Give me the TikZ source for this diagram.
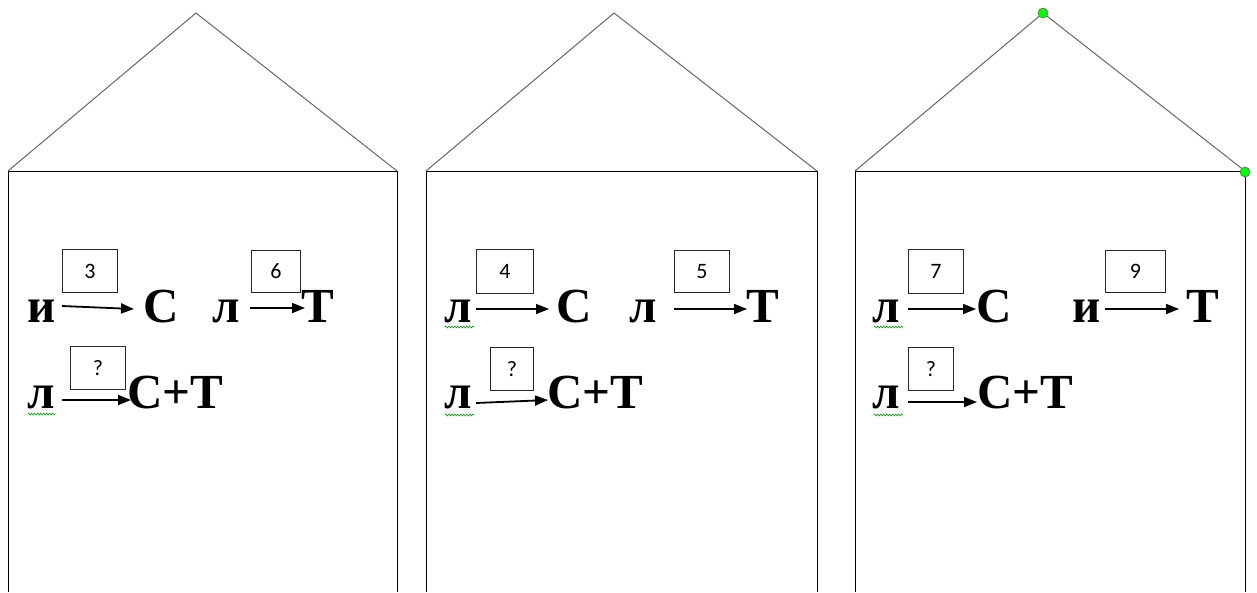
\documentclass[tikz,border=0pt]{standalone}
\usepackage{fontspec}
\setmainfont{Liberation Serif}
\newfontfamily\boxfont{Carlito}
\usetikzlibrary{arrows.meta,decorations.pathmorphing}
\begin{document}
\begin{tikzpicture}[x=1pt,y=-1pt,
  wall/.style={draw=black, line width=1pt},
  roof/.style={draw=black!60, line width=1pt},
  big/.style={font=\bfseries\fontsize{49}{49}\selectfont, inner sep=0pt, anchor=base west},
  numbox/.style={draw=black!85, line width=0.9pt, anchor=north west, inner sep=0pt,
    font=\boxfont\fontsize{22}{22}\selectfont},
  arr/.style={-{Triangle[length=13pt,width=10pt]}, line width=1.8pt},
  squig/.style={draw=green!65!black, line width=0.6pt, decorate,
    decoration={zigzag, amplitude=1pt, segment length=3pt}},
  handle/.style={circle, fill=green, draw=black!60, line width=0.6pt, inner sep=0pt, minimum size=10pt}]
\useasboundingbox (0,0) rectangle (1257,592);

% ---------- house 1 ----------
\draw[wall] (8,592) -- (8,171) -- (397,171) -- (397,592);
\draw[roof] (8,171) -- (196,13) -- (397,171);
\node[big] (a1) at (27,322) {и};
\node[big] (a1t) at (143,322) {С};
\node[big] (b1) at (212,322) {л};
\node[big] (b1t) at (301,322) {Т};
\node[big] (c1) at (27,408) {л};
\node[big] (c1t) at (127,408) {С+Т};
\node[numbox, minimum width=55pt, minimum height=43pt] (n1a) at (62,249) {3};
\node[numbox, minimum width=49pt, minimum height=42pt] (n1b) at (251,250) {6};
\node[numbox, minimum width=55pt, minimum height=43pt] (n1c) at (70,346) {?};
\coordinate (a1s) at (62,306); \coordinate (a1e) at (134,309);
\coordinate (b1s) at (250,308); \coordinate (b1e) at (305,308);
\coordinate (c1s) at (62,400); \coordinate (c1e) at (131,400);
\draw[arr] (a1s) -- (a1e);
\draw[arr] (b1s) -- (b1e);
\draw[arr] (c1s) -- (c1e);
\coordinate (q1a) at (28,414); \coordinate (q1b) at (55,414);
\draw[squig] (q1a) -- (q1b);

% ---------- house 2 ----------
\draw[wall] (426,592) -- (426,171) -- (817,171) -- (817,592);
\draw[roof] (426,171) -- (614,13) -- (817,171);
\node[big] (a2) at (444,322) {л};
\node[big] (a2t) at (556,322) {С};
\node[big] (b2) at (629,322) {л};
\node[big] (b2t) at (746,322) {Т};
\node[big] (c2) at (444,408) {л};
\node[big] (c2t) at (547,408) {С+Т};
\node[numbox, minimum width=57pt, minimum height=44pt] (n2a) at (476,249) {4};
\node[numbox, minimum width=55pt, minimum height=42pt] (n2b) at (674,250) {5};
\node[numbox, minimum width=43pt, minimum height=43pt] (n2c) at (490,347) {?};
\coordinate (a2s) at (476,309); \coordinate (a2e) at (549,309);
\coordinate (b2s) at (674,309); \coordinate (b2e) at (747,309);
\coordinate (c2s) at (476,403); \coordinate (c2e) at (548,400);
\draw[arr] (a2s) -- (a2e);
\draw[arr] (b2s) -- (b2e);
\draw[arr] (c2s) -- (c2e);
\coordinate (q2a) at (445,327); \coordinate (q2b) at (474,327);
\coordinate (q2c) at (445,415); \coordinate (q2d) at (474,415);
\draw[squig] (q2a) -- (q2b);
\draw[squig] (q2c) -- (q2d);

% ---------- house 3 ----------
\draw[wall] (855,592) -- (855,171) -- (1245,171) -- (1245,592);
\draw[roof] (855,171) -- (1043,13) -- (1245,171);
\node[big] (a3) at (872,322) {л};
\node[big] (a3t) at (976,322) {С};
\node[big] (b3) at (1072,322) {и};
\node[big] (b3t) at (1186,322) {Т};
\node[big] (c3) at (872,408) {л};
\node[big] (c3t) at (977,408) {С+Т};
\node[numbox, minimum width=55pt, minimum height=44pt] (n3a) at (908,249) {7};
\node[numbox, minimum width=60pt, minimum height=42pt] (n3b) at (1105,250) {9};
\node[numbox, minimum width=45pt, minimum height=43pt] (n3c) at (908,347) {?};
\coordinate (a3s) at (908,309); \coordinate (a3e) at (976,309);
\coordinate (b3s) at (1105,309); \coordinate (b3e) at (1179,309);
\coordinate (c3s) at (908,402); \coordinate (c3e) at (977,402);
\draw[arr] (a3s) -- (a3e);
\draw[arr] (b3s) -- (b3e);
\draw[arr] (c3s) -- (c3e);
\coordinate (q3a) at (874,327); \coordinate (q3b) at (903,327);
\coordinate (q3c) at (874,415); \coordinate (q3d) at (903,415);
\draw[squig] (q3a) -- (q3b);
\draw[squig] (q3c) -- (q3d);
\node[handle] (h1) at (1043,13) {};
\node[handle] (h2) at (1245,172) {};
\end{tikzpicture}
\end{document}
